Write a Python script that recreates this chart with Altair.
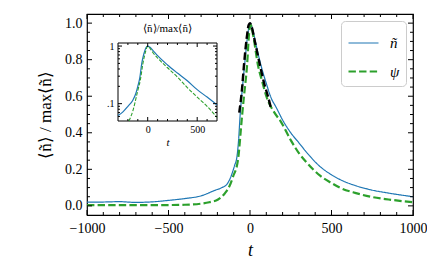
import altair as alt
import pandas as pd

FONT = "Liberation Serif"

# ---- main curves ----
blue_t = [-1000, -900, -800, -700, -600, -500, -400, -300, -215, -172, -140, -117, -95, -80, -70, -61, -55, -45, -31, -15, 0,
          15, 35, 67, 100, 130, 160, 200, 250, 300, 350, 430, 500, 550, 650, 740, 850, 1000]
blue_y = [0.020, 0.021, 0.023, 0.019, 0.022, 0.030, 0.040, 0.055, 0.085, 0.100, 0.120, 0.160, 0.220, 0.270, 0.360, 0.490, 0.560, 0.660, 0.790, 0.930, 1.000,
          0.970, 0.890, 0.770, 0.670, 0.590, 0.540, 0.470, 0.400, 0.345, 0.290, 0.215, 0.170, 0.145, 0.110, 0.088, 0.070, 0.050]

green_t = [-1000, -800, -600, -400, -300, -250, -196, -153, -125, -104, -74, -49, -37, -18, -5, 5,
           20, 49, 75, 100, 150, 190, 250, 307, 350, 430, 500, 550, 650, 740, 850, 1000]
green_y = [0.004, 0.004, 0.004, 0.006, 0.012, 0.020, 0.035, 0.070, 0.110, 0.160, 0.250, 0.490, 0.600, 0.770, 0.950, 0.990,
           0.930, 0.770, 0.680, 0.600, 0.510, 0.460, 0.360, 0.280, 0.235, 0.165, 0.125, 0.100, 0.070, 0.050, 0.035, 0.020]

fit_t = [-66, -50, -37, -20, -8, 0, 10, 30, 61, 90, 110, 130]
fit_y = [0.51, 0.63, 0.77, 0.92, 0.99, 1.00, 0.98, 0.90, 0.77, 0.66, 0.60, 0.53]

# ---- inset curves (log scale) ----
in_blue_t = [-300, -250, -200, -150, -120, -100, -80, -60, -40, -20, 0, 20, 50, 100, 200, 300, 400, 500, 600, 700]
in_blue_y = [0.062, 0.072, 0.090, 0.115, 0.150, 0.200, 0.280, 0.500, 0.720, 0.920, 1.0, 0.96, 0.85, 0.68, 0.47, 0.34, 0.25, 0.175, 0.13, 0.095]
in_green_t = [-190, -150, -100, -74, -50, -20, 0, 20, 50, 100, 200, 300, 400, 500, 600, 700]
in_green_y = [0.050, 0.075, 0.170, 0.260, 0.480, 0.820, 1.0, 0.93, 0.78, 0.62, 0.42, 0.29, 0.19, 0.13, 0.09, 0.058]

series = ["ñ", "ψ"]
colors = ["#1f77b4", "#2ca02c"]
dashes = [[1, 0], [7.4, 3.2]]
widths = [1.2, 2.2]

x_major = [-1000, -500, 0, 500, 1000]
x_minor = [-900, -800, -700, -600, -400, -300, -200, -100, 100, 200, 300, 400, 600, 700, 800, 900]
y_major = [0.0, 0.2, 0.4, 0.6, 0.8, 1.0]
y_minor = [0.05, 0.1, 0.15, 0.25, 0.3, 0.35, 0.45, 0.5, 0.55, 0.65, 0.7, 0.75, 0.85, 0.9, 0.95]

ix_major = [0, 500]
ix_minor = [-200, -100, 100, 200, 300, 400, 600]
iy_major = [0.1, 1.0]
iy_minor = [0.06, 0.07, 0.08, 0.09, 0.2, 0.3, 0.4, 0.5, 0.6, 0.7, 0.8, 0.9]

X0, X1 = -1000, 1000
Y0, Y1 = -0.05, 1.05
IX0, IX1 = -300, 700
IY0, IY1 = 0.05, 1.13

xs = alt.Scale(domain=[X0, X1], nice=False, zero=False)
ys = alt.Scale(domain=[Y0, Y1], nice=False, zero=False)
ixs = alt.Scale(domain=[IX0, IX1], range=[31, 130], nice=False, zero=False)
iys = alt.Scale(type="log", domain=[IY0, IY1], range=[107, 29], nice=False)

df = pd.concat([
    pd.DataFrame({"t": blue_t, "y": blue_y, "s": series[0]}),
    pd.DataFrame({"t": green_t, "y": green_y, "s": series[1]}),
])

lines = alt.Chart(df).mark_line(interpolate="monotone").encode(
    x=alt.X("t:Q", scale=xs, axis=alt.Axis(orient="bottom", values=x_major, format="d", ticks=False, domain=False, grid=False,
                                           labelFlush=False, labelOverlap=False,
                                           labelFont=FONT, labelFontSize=14, labelPadding=6, labelColor="black",
                                           title="t", titleFont=FONT, titleFontStyle="italic", titleFontWeight="normal",
                                           titleFontSize=18, titlePadding=6, titleColor="black")),
    y=alt.Y("y:Q", scale=ys, axis=alt.Axis(orient="left", values=y_major, format=".1f", ticks=False, domain=False, grid=False,
                                           labelFlush=False, labelOverlap=False,
                                           labelFont=FONT, labelFontSize=14, labelPadding=5, labelColor="black",
                                           title="⟨ñ⟩ / max⟨ñ⟩", titleFont=FONT, titleFontWeight="normal",
                                           titleFontSize=17, titlePadding=10, titleColor="black")),
    color=alt.Color("s:N", scale=alt.Scale(domain=series, range=colors), legend=alt.Legend(title=None)),
    strokeDash=alt.StrokeDash("s:N", scale=alt.Scale(domain=series, range=dashes), legend=alt.Legend(title=None)),
    strokeWidth=alt.StrokeWidth("s:N", scale=alt.Scale(domain=series, range=widths), legend=alt.Legend(title=None)),
)

fit = alt.Chart(pd.DataFrame({"t": fit_t, "y": fit_y})).mark_line(
    color="black", strokeWidth=2.4, strokeDash=[7.4, 3.2], interpolate="monotone"
).encode(
    x=alt.X("t:Q", scale=xs, axis=None),
    y=alt.Y("y:Q", scale=ys, axis=None),
)


def vticks(vals, sx, sy, yd, off, width=1):
    return alt.Chart(pd.DataFrame({"v": vals})).mark_rule(color="black", strokeWidth=width, y2Offset=off).encode(
        x=alt.X("v:Q", scale=sx, axis=None),
        y=alt.Y(datum=yd, type="quantitative", scale=sy, axis=None),
        y2=alt.Y2(datum=yd),
    )


def hticks(vals, sx, sy, xd, off, width=1):
    return alt.Chart(pd.DataFrame({"v": vals})).mark_rule(color="black", strokeWidth=width, x2Offset=off).encode(
        y=alt.Y("v:Q", scale=sy, axis=None),
        x=alt.X(datum=xd, type="quantitative", scale=sx, axis=None),
        x2=alt.X2(datum=xd),
    )


main_ticks = [
    vticks(x_major, xs, ys, Y0, -5), vticks(x_minor, xs, ys, Y0, -3),
    vticks(x_major, xs, ys, Y1, 5), vticks(x_minor, xs, ys, Y1, 3),
    hticks(y_major, xs, ys, X0, 5), hticks(y_minor, xs, ys, X0, 3),
    hticks(y_major, xs, ys, X1, -5), hticks(y_minor, xs, ys, X1, -3),
]

main = alt.layer(lines, fit, *main_ticks).resolve_axis(x="independent", y="independent")

# ---- inset ----
box = alt.Chart(pd.DataFrame({"a": [0]})).mark_rect(fill="white", stroke="black", strokeWidth=1).encode(
    x=alt.X(datum=IX0, type="quantitative", scale=ixs, axis=None),
    x2=alt.X2(datum=IX1),
    y=alt.Y(datum=IY0, type="quantitative", scale=iys, axis=None),
    y2=alt.Y2(datum=IY1),
)

in_blue = alt.Chart(pd.DataFrame({"t": in_blue_t, "y": in_blue_y})).mark_line(
    color=colors[0], strokeWidth=1.2, interpolate="monotone"
).encode(
    x=alt.X("t:Q", scale=ixs, axis=alt.Axis(orient="bottom", offset=-94, values=ix_major, format="d", ticks=False,
                                            labelFlush=False, labelOverlap=False,
                                            domain=False, grid=False, labelFont=FONT, labelFontSize=10, labelPadding=3,
                                            labelColor="black", title="t", titleFont=FONT, titleFontStyle="italic",
                                            titleFontWeight="normal", titleFontSize=11, titlePadding=2, titleColor="black")),
    y=alt.Y("y:Q", scale=iys, axis=alt.Axis(orient="left", offset=-31, values=iy_major, ticks=False, domain=False,
                                            labelFlush=False, labelOverlap=False,
                                            grid=False, labelFont=FONT, labelFontSize=10, labelPadding=4,
                                            labelColor="black", labelExpr="datum.value >= 0.5 ? '1' : '.1'",
                                            title=None)),
)

in_green = alt.Chart(pd.DataFrame({"t": in_green_t, "y": in_green_y})).mark_line(
    color=colors[1], strokeWidth=1.1, strokeDash=[3.7, 1.6], interpolate="monotone"
).encode(
    x=alt.X("t:Q", scale=ixs, axis=None),
    y=alt.Y("y:Q", scale=iys, axis=None),
)

in_title = alt.Chart(pd.DataFrame({"a": [0]})).mark_text(
    text="⟨ñ⟩/max⟨ñ⟩", font=FONT, fontSize=11, dy=-14, color="black"
).encode(
    x=alt.X(datum=200, type="quantitative", scale=ixs, axis=None),
    y=alt.Y(datum=IY1, type="quantitative", scale=iys, axis=None),
)

in_ticks = [
    vticks(ix_major, ixs, iys, IY0, -4), vticks(ix_minor, ixs, iys, IY0, -2),
    vticks(ix_major, ixs, iys, IY1, 4), vticks(ix_minor, ixs, iys, IY1, 2),
    hticks(iy_major, ixs, iys, IX0, 4), hticks(iy_minor, ixs, iys, IX0, 2),
    hticks(iy_major, ixs, iys, IX1, -4), hticks(iy_minor, ixs, iys, IX1, -2),
]

inset = alt.layer(box, in_blue, in_green, in_title, *in_ticks).resolve_axis(x="independent", y="independent")

chart = alt.layer(main, inset).resolve_scale(x="independent", y="independent").properties(
    width=326, height=201,
    autosize=alt.AutoSizeParams(type="none"),
    padding={"left": 79, "top": 6, "right": 14, "bottom": 46},
).configure_view(stroke="black", strokeWidth=1.2).configure_legend(
    orient="top-right", offset=7, padding=6, fillColor="white", strokeColor="#cccccc", cornerRadius=4,
    symbolType="stroke", symbolSize=900, labelFont=FONT, labelFontSize=15, labelFontStyle="italic",
    labelColor="black", labelOffset=10, rowPadding=4,
)

chart.save("out.html", embed_options={"renderer": "svg", "actions": False})
